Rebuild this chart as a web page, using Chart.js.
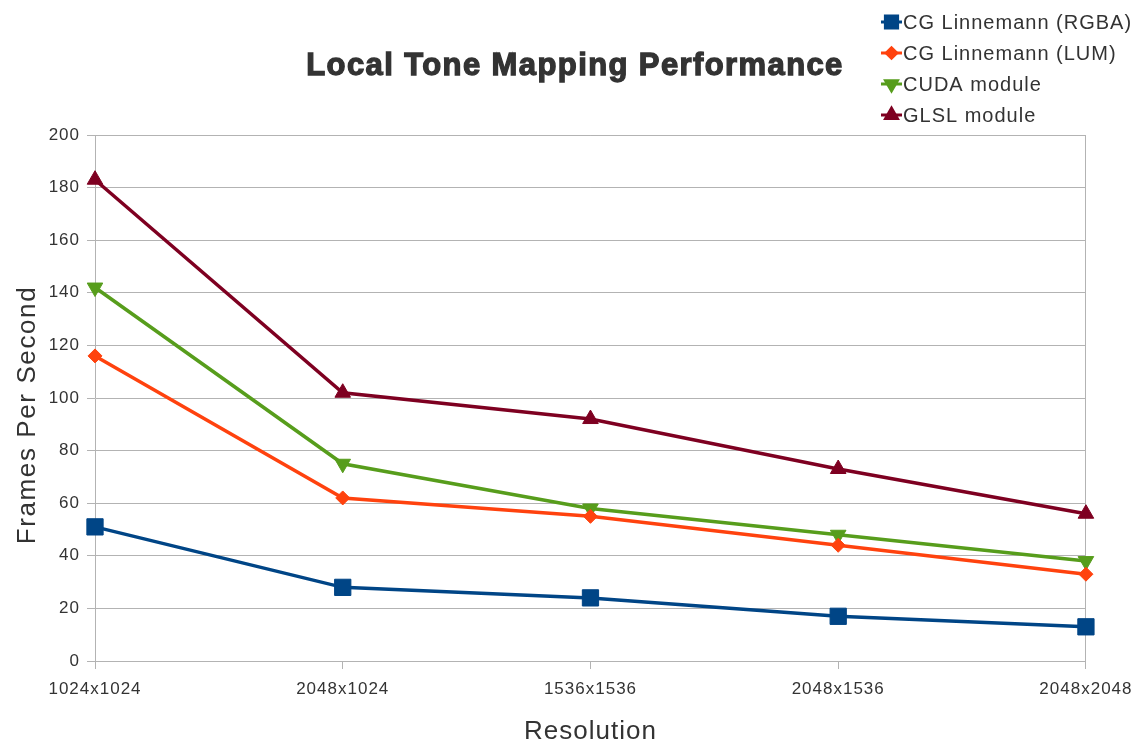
<!DOCTYPE html>
<html>
<head>
<meta charset="utf-8">
<title>Local Tone Mapping Performance</title>
<script src="https://cdn.jsdelivr.net/npm/chart.js@4.4.1/dist/chart.umd.min.js"></script>
<style>
  html, body { margin: 0; padding: 0; background: #ffffff; }
  #wrap { width: 1138px; height: 742px; position: relative; }
</style>
</head>
<body>
<div id="wrap"><canvas id="chart" width="1138" height="742"></canvas></div>
<script>
// Resolutions tested
const resolutions = ['1024x1024', '2048x1024', '1536x1536', '2048x1536', '2048x2048'];

// Frames per second for each implementation
const cgRgba = [51, 28, 24, 17, 13];
const cgLum  = [116, 62, 55, 44, 33];
const cudaModule = [142, 75, 58, 48, 38];
const glslModule = [183, 102, 92, 73, 56];

const seriesNames = ['CG Linnemann (RGBA)', 'CG Linnemann (LUM)', 'CUDA module', 'GLSL module'];
const yTicks = [0, 20, 40, 60, 80, 100, 120, 140, 160, 180, 200];

const chartTitle = 'Local Tone Mapping Performance';
const yTitle = 'Frames Per Second';
const xTitle = 'Resolution';
const FONT = '"Liberation Sans", Arial, sans-serif';
const TEXT = '#333333';
const GRID = '#b3b3b3';

// Title, legend and the vertical axis caption are painted by hand
const headerPlugin = {
  id: 'header',
  beforeDraw(chart) {
    chart.ctx.letterSpacing = '1px';
  },
  afterDraw(chart) {
    const ctx = chart.ctx;
    ctx.save();
    // title
    ctx.letterSpacing = '1.4px';
    ctx.font = 'bold 31px ' + FONT;
    ctx.fillStyle = TEXT;
    ctx.strokeStyle = TEXT;
    ctx.lineWidth = 1.3;
    ctx.textAlign = 'center';
    ctx.textBaseline = 'middle';
    ctx.fillText(chartTitle, 575, 66);
    ctx.strokeText(chartTitle, 575, 66);

    // vertical axis caption
    ctx.save();
    ctx.translate(28, 415);
    ctx.rotate(-Math.PI / 2);
    ctx.letterSpacing = '1.6px';
    ctx.font = '26px ' + FONT;
    ctx.fillText(yTitle, 0, 0);
    ctx.restore();

    // legend
    ctx.letterSpacing = '1px';
    ctx.font = '20px ' + FONT;
    ctx.textAlign = 'left';
    chart.data.datasets.forEach((ds, i) => {
      const y = 22 + i * 31;
      ctx.strokeStyle = ds.borderColor;
      ctx.lineWidth = 3;
      ctx.beginPath();
      ctx.moveTo(881, y);
      ctx.lineTo(902, y);
      ctx.stroke();
      ctx.fillStyle = ds.backgroundColor;
      ctx.strokeStyle = ds.borderColor;
      Chart.helpers.drawPoint(ctx, {
        pointStyle: ds.pointStyle,
        rotation: ds.pointRotation || 0,
        radius: ds.pointRadius * 0.75,
        borderWidth: 1
      }, 891.5, y);
      ctx.fillStyle = TEXT;
      ctx.fillText(ds.label, 903, y + 1);
    });
    ctx.restore();
  }
};

function series(label, data, color, style, radius, rotation) {
  return {
    label, data,
    borderColor: color,
    backgroundColor: color,
    borderWidth: 3.5,
    pointStyle: style,
    pointRadius: radius,
    pointHoverRadius: radius,
    pointRotation: rotation,
    pointBorderWidth: 1,
    tension: 0
  };
}

new Chart(document.getElementById('chart'), {
  type: 'line',
  data: {
    labels: resolutions,
    datasets: [
      series(seriesNames[0], cgRgba, '#004586', 'rect', 11.5, 0),
      series(seriesNames[1], cgLum, '#ff420e', 'rectRot', 7, 0),
      series(seriesNames[2], cudaModule, '#579d1c', 'triangle', 9, 180),
      series(seriesNames[3], glslModule, '#7e0021', 'triangle', 9, 0)
    ]
  },
  options: {
    responsive: false,
    animation: false,
    devicePixelRatio: 1,
    layout: { padding: { top: 135, left: 0, right: 0, bottom: 0 } },
    plugins: {
      legend: { display: false },
      title: { display: false },
      tooltip: { enabled: false }
    },
    scales: {
      x: {
        type: 'category',
        offset: false,
        grid: {
          drawOnChartArea: false,
          color: GRID,
          tickLength: 8,
          lineWidth: 1
        },
        border: { display: true, color: GRID, width: 1 },
        ticks: {
          color: TEXT,
          font: { family: FONT, size: 17 },
          padding: 10,
          maxRotation: 0,
          autoSkip: false
        },
        title: {
          display: true,
          text: xTitle,
          color: TEXT,
          font: { family: FONT, size: 26, lineHeight: 1 },
          padding: { top: 0, bottom: -3 }
        },
        afterFit(scale) { scale.height = 81; }
      },
      y: {
        position: 'left',
        min: 0,
        max: 200,
        afterBuildTicks(scale) { scale.ticks = yTicks.map(v => ({ value: v })); },
        grid: { color: GRID, tickLength: 8, lineWidth: 1 },
        border: { display: true, color: GRID, width: 1 },
        ticks: {
          color: TEXT,
          font: { family: FONT, size: 17 },
          padding: 7
        },
        afterFit(scale) { scale.width = 95; }
      },
      yRight: {
        position: 'right',
        min: 0,
        max: 200,
        grid: { drawOnChartArea: false, drawTicks: false },
        border: { display: true, color: GRID, width: 1 },
        ticks: { display: false },
        afterFit(scale) { scale.width = 52; }
      }
    }
  },
  plugins: [headerPlugin]
});
</script>
</body>
</html>
